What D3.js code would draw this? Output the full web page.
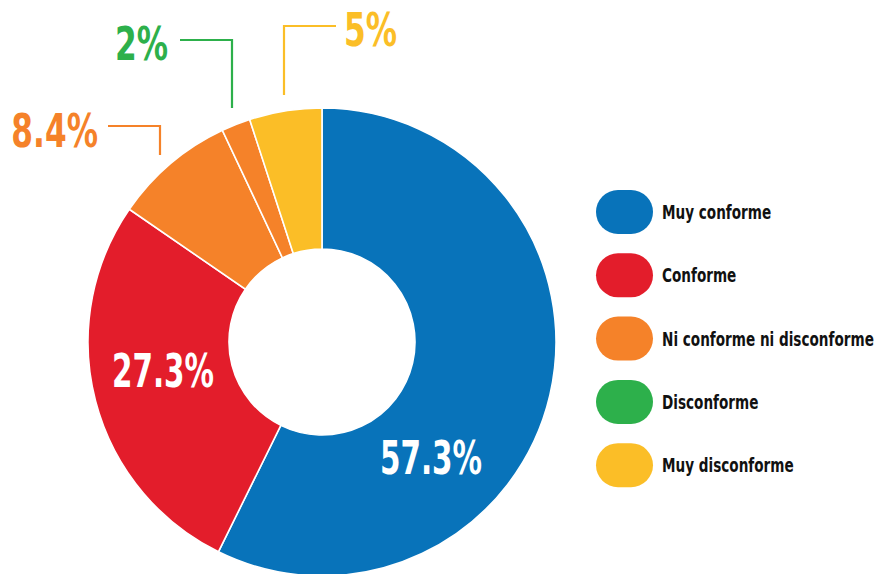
<!DOCTYPE html>
<html lang="es">
<head>
<meta charset="UTF-8">
<title>Conformidad</title>
<script src="https://d3js.org/d3.v7.min.js"></script>
<style>
  body { margin: 0; background: #fff; }
  text { font-family: "DejaVu Sans", sans-serif; font-weight: bold; }
</style>
</head>
<body>
<script>
    // categories and values, clockwise from 12 o'clock
    var categories = ["Muy conforme", "Conforme", "Ni conforme ni disconforme", "Disconforme", "Muy disconforme"];
    var values = [57.3, 27.3, 8.4, 2, 5];
    var labels = ["57.3%", "27.3%", "8.4%", "2%", "5%"];
    var legendColors = ["#0873ba", "#e31d2b", "#f58229", "#2db04b", "#fbbe27"];
    // the original paints the 2% slice orange, not green
    var sliceColors = ["#0873ba", "#e31d2b", "#f58229", "#f58229", "#fbbe27"];

    var width = 883, height = 574;
    var cx = 322, cy = 342, outerR = 234, innerR = 93;

    var svg = d3.select("body").append("svg")
        .attr("width", width)
        .attr("height", height);

    // no condensed font installed, so squeeze the text horizontally
    function squeezed(parent, x, y, k) {
        return parent.append("text")
            .attr("transform", "translate(" + x + "," + y + ") scale(" + k + ",1)");
    }

    var pie = d3.pie().sort(null).value(function (d) { return d; });
    var arc = d3.arc().innerRadius(innerR).outerRadius(outerR);
    var arcs = pie(values);

    var g = svg.append("g").attr("transform", "translate(" + cx + "," + cy + ")");

    g.selectAll("path")
        .data(arcs)
        .enter().append("path")
        .attr("d", arc)
        .attr("fill", function (d, i) { return sliceColors[i]; })
        .attr("stroke", "#fff")
        .attr("stroke-width", 1.6);

    // labels inside the two big slices
    var insidePos = [[431, 474], [163, 387]];
    insidePos.forEach(function (p, i) {
        squeezed(svg, p[0], p[1], 0.64)
            .attr("text-anchor", "middle")
            .attr("fill", "#fff")
            .attr("font-size", 46)
            .text(labels[i]);
    });

    // outside labels with elbow leader lines
    var outside = [
        { i: 2, tx: 98, ty: 147, anchor: "end", line: [[108, 126], [160, 126], [160, 155]] },
        { i: 3, tx: 168, ty: 60, anchor: "end", line: [[180, 40], [232, 40], [232, 108]] },
        { i: 4, tx: 344, ty: 46, anchor: "start", line: [[336, 26], [284, 26], [284, 95]] }
    ];
    outside.forEach(function (o) {
        svg.append("polyline")
            .attr("points", o.line.map(function (p) { return p.join(","); }).join(" "))
            .attr("fill", "none")
            .attr("stroke", legendColors[o.i])
            .attr("stroke-width", 2.2);
        squeezed(svg, o.tx, o.ty, 0.68)
            .attr("text-anchor", o.anchor)
            .attr("fill", legendColors[o.i])
            .attr("font-size", 46)
            .text(labels[o.i]);
    });

    // legend
    var legend = svg.append("g").attr("transform", "translate(596,190)");
    categories.forEach(function (name, i) {
        var row = legend.append("g").attr("transform", "translate(0," + (i * 63.3) + ")");
        row.append("rect")
            .attr("width", 57).attr("height", 44)
            .attr("rx", 22).attr("ry", 22)
            .attr("fill", legendColors[i]);
        squeezed(row, 66, 29, 0.68)
            .attr("fill", "#111")
            .attr("font-size", 20)
            .text(name);
    });
</script>
</body>
</html>
